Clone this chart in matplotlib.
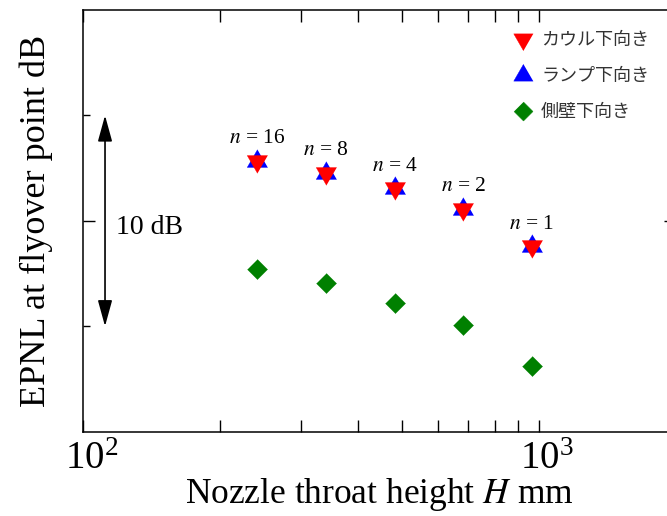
import numpy as np
import matplotlib.pyplot as plt
import matplotlib.transforms as mtransforms
from matplotlib.ticker import FixedLocator, NullFormatter

plt.rcParams['font.family'] = ['Liberation Serif', 'DejaVu Serif']
plt.rcParams['mathtext.fontset'] = 'stix'

# nozzle count n, throat height H [mm], EPNL relative values [dB]
n_values = [16, 8, 4, 2, 1]
throat_height = [241, 341, 482, 682, 964]
epnl_cowl = [12.83, 12.27, 11.54, 10.57, 8.79]
epnl_ramp = [12.83, 12.27, 11.54, 10.57, 8.79]
epnl_side = [7.74, 7.03, 6.09, 5.04, 3.13]

labels = ['カウル下向き', 'ランプ下向き', '側壁下向き']

# equilateral triangles centred on their centroid, plus a square diamond
tri_up = [(0, 1), (-0.866, -0.5), (0.866, -0.5)]
tri_down = [(0, -1), (-0.866, 0.5), (0.866, 0.5)]
diamond = [(0, 1), (1, 0), (0, -1), (-1, 0)]

fig = plt.figure(figsize=(6.67, 5.16), dpi=100)
ax = fig.add_axes([83.3 / 667, 84.3 / 516, (676.2 - 83.3) / 667, 421.7 / 516])

h_side, = ax.plot(throat_height, epnl_side, ls='none', marker=diamond, ms=14.4,
                  color='#008000', mec='#008000', mew=0.3)
h_ramp, = ax.plot(throat_height, epnl_ramp, ls='none', marker=tri_up, ms=17,
                  color='#0000ff', mec='#0000ff', mew=0.3)
h_cowl, = ax.plot(throat_height, epnl_cowl, ls='none', marker=tri_down, ms=17,
                  color='#ff0000', mec='#ff0000', mew=0.3)

for n, h, y in zip(n_values, throat_height, epnl_ramp):
    ax.annotate(r'$n$ = %d' % n, (h, y), xytext=(0, 16), textcoords='offset points',
                ha='center', va='center', fontsize=15.5)

ax.set_xscale('log')
ax.set_xlim(100, 2000)
ax.set_ylim(0, 20)

ax.xaxis.set_major_locator(FixedLocator([100, 1000]))
ax.xaxis.set_minor_locator(FixedLocator([200, 300, 400, 500, 600, 700, 800, 900]))
ax.xaxis.set_minor_formatter(NullFormatter())
ax.yaxis.set_major_locator(FixedLocator([10]))
ax.yaxis.set_minor_locator(FixedLocator([5, 15]))
ax.yaxis.set_major_formatter(NullFormatter())

ax.tick_params(which='both', direction='in', top=True, right=True, width=1)
ax.tick_params(axis='x', which='both', length=8.6, labelsize=28, pad=7)
ax.tick_params(axis='y', which='major', length=8.6)
ax.tick_params(axis='y', which='minor', length=5)
for s in ax.spines.values():
    s.set_linewidth(1.1)

# nudge the decade labels right so the mantissa sits over the tick
shift = mtransforms.ScaledTranslation(8 / 100, 0, fig.dpi_scale_trans)
for lbl in ax.get_xticklabels():
    lbl.set_transform(lbl.get_transform() + shift)

ax.set_xlabel(r'Nozzle throat height $H$ mm', fontsize=25.5, labelpad=-2)
ax.set_ylabel('EPNL at flyover point dB', fontsize=26, labelpad=18)

# 10 dB scale bar
ax.annotate('', xy=(111.6, 15), xytext=(111.6, 5),
            arrowprops=dict(arrowstyle='<|-|>,head_length=0.8,head_width=0.22',
                            color='black', lw=1.2, mutation_scale=20,
                            shrinkA=0, shrinkB=0))
ax.text(118, 9.7, '10 dB', fontsize=20, va='center', ha='left')

leg = ax.legend([h_cowl, h_ramp, h_side], labels, loc='upper left',
                bbox_to_anchor=(514 / 667, 1 - 31 / 516), bbox_transform=fig.transFigure,
                frameon=False, markerscale=0.95, handlelength=1.0, handletextpad=0.5,
                labelspacing=1.0, borderpad=0, borderaxespad=0,
                prop={'family': ['Noto Sans CJK JP', 'DejaVu Sans'], 'size': 13})
for t in leg.get_texts():
    t.set_color('#333333')

fig.savefig('out.png', dpi=100)
